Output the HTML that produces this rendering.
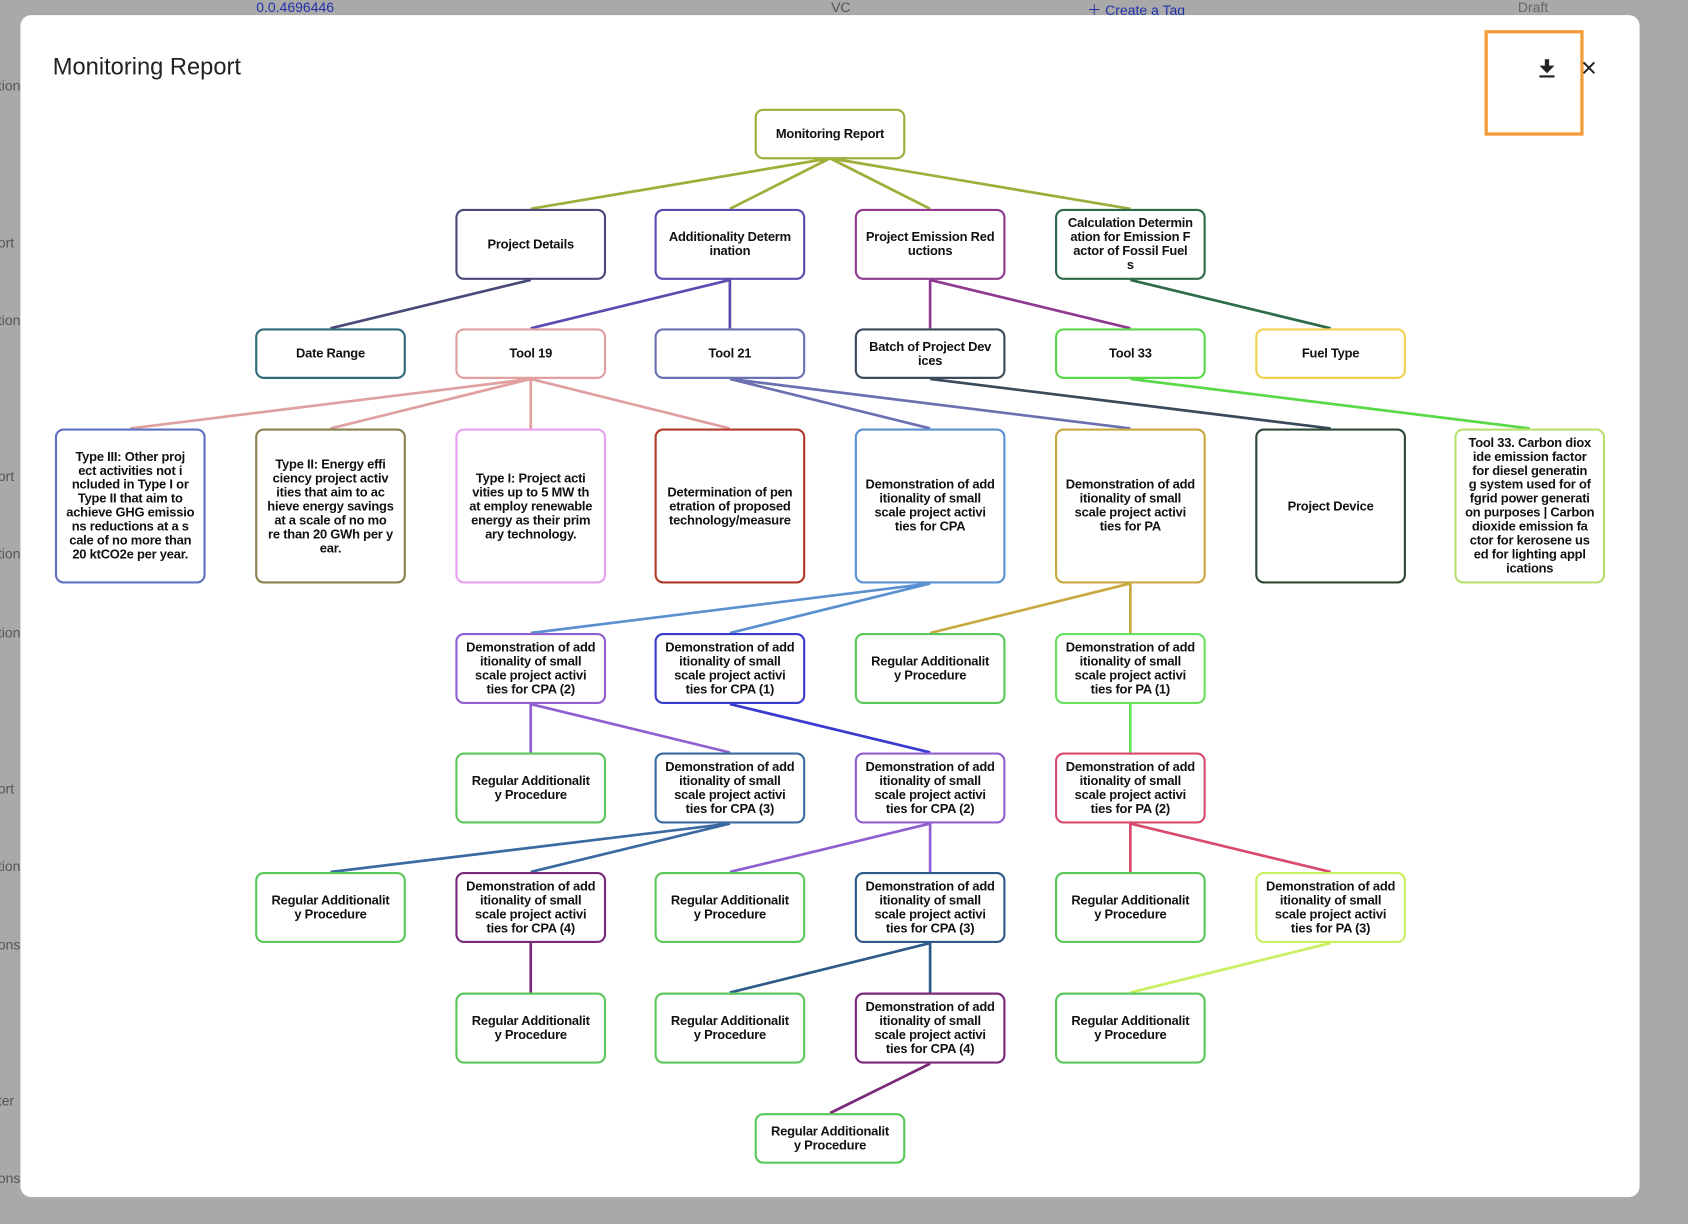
<!DOCTYPE html>
<html><head><meta charset="utf-8"><style>
html,body{margin:0;padding:0;width:1688px;height:1224px;overflow:hidden;background:#a9a9a9;}
#w{position:absolute;left:0;top:0;width:1568px;height:1137px;transform:scale(1.076531);transform-origin:0 0;font-family:"Liberation Sans",sans-serif;}
.bg{position:absolute;color:#555;font-size:13px;}
.modal{position:absolute;left:19px;top:14px;width:1504px;height:1098px;background:#fff;border-radius:10px;}
.n{position:absolute;width:140px;box-sizing:border-box;border:2px solid #5ac85a;border-radius:8px;background:#fff;display:flex;align-items:center;justify-content:center;text-align:center;font-weight:bold;font-size:12px;line-height:13px;color:#111;white-space:nowrap;letter-spacing:-0.2px;}
svg{position:absolute;left:0;top:0;}
</style></head><body><div id="w">
<div class="bg" style="left:0;top:0;width:1568px;height:14px;background:#a9a9a9"></div>
<div class="bg" style="left:238px;top:-1px;color:#2233aa;">0.0.4696446</div>
<div class="bg" style="left:772px;top:-1px;">VC</div>
<div class="bg" style="left:1010px;top:-1px;color:#2233aa;">＋ Create a Tag</div>
<div class="bg" style="left:1410px;top:-1px;color:#666;">Draft</div>
<div class="bg" style="left:-2px;top:72px;">tion</div>
<div class="bg" style="left:-2px;top:218px;">ort</div>
<div class="bg" style="left:-2px;top:290px;">tion</div>
<div class="bg" style="left:-2px;top:435px;">ort</div>
<div class="bg" style="left:-2px;top:507px;">tion</div>
<div class="bg" style="left:-2px;top:580px;">tion</div>
<div class="bg" style="left:-2px;top:725px;">ort</div>
<div class="bg" style="left:-2px;top:797px;">tion</div>
<div class="bg" style="left:-2px;top:870px;">ons</div>
<div class="bg" style="left:-2px;top:1015px;">ter</div>
<div class="bg" style="left:-2px;top:1087px;">ons</div>
<div class="modal"></div>
<div style="position:absolute;left:49px;top:49px;font-size:22px;color:#222;">Monitoring Report</div>
<div style="position:absolute;left:1379px;top:28px;width:86px;height:92px;border:3px solid #f39a36;"></div>
<svg width="1568" height="1137" style="z-index:0">
<g fill="#222"><rect x="1435" y="55" width="4" height="7"/><polygon points="1430,61 1444,61 1437,68"/><rect x="1430" y="70" width="14" height="2"/></g>
<path d="M1471 58 L1481 68 M1481 58 L1471 68" stroke="#222" stroke-width="1.8"/>
<g fill="none" stroke-width="2.5">
<g stroke="#a0ad3a"><path d="M771 147L493 194M771 147L678 194M771 147L864 194M771 147L1050 194"/></g>
<path stroke="#4a4a7a" d="M493 260L307 305"/>
<path stroke="#5b4bb0" d="M678 260L493 305M678 260L678 305"/>
<path stroke="#8e3a8e" d="M864 260L864 305M864 260L1050 305"/>
<path stroke="#2e6b4a" d="M1050 260L1236 305"/>
<path stroke="#e0a0a0" d="M493 352L121 398M493 352L307 398M493 352L493 398M493 352L678 398"/>
<path stroke="#6a70b0" d="M678 352L864 398M678 352L1050 398"/>
<path stroke="#3a4a5a" d="M864 352L1236 398"/>
<path stroke="#5ad84a" d="M1050 352L1421 398"/>
<path stroke="#5a90d0" d="M864 542L493 588M864 542L678 588"/>
<path stroke="#c8a840" d="M1050 542L864 588M1050 542L1050 588"/>
<path stroke="#9060d0" d="M493 654L493 699M493 654L678 699"/>
<path stroke="#3a3ad0" d="M678 654L864 699"/>
<path stroke="#6ae060" d="M1050 654L1050 699"/>
<path stroke="#3a6aa0" d="M678 765L307 810M678 765L493 810"/>
<path stroke="#9060d0" d="M864 765L678 810M864 765L864 810"/>
<path stroke="#d84a70" d="M1050 765L1050 810M1050 765L1236 810"/>
<path stroke="#7a2a7a" d="M493 876L493 922"/>
<path stroke="#2e5a8a" d="M864 876L678 922M864 876L864 922"/>
<path stroke="#c8f060" d="M1236 876L1050 922"/>
<path stroke="#7a2a7a" d="M864 988L771 1034"/>
</g></svg>
<div class="n" style="left:701px;top:101px;height:47px;border-color:#a0ad3a">Monitoring Report</div>
<div class="n" style="left:423px;top:194px;height:66px;border-color:#4a4a7a">Project Details</div>
<div class="n" style="left:608px;top:194px;height:66px;border-color:#5b4bb0">Additionality Determ<br>ination</div>
<div class="n" style="left:794px;top:194px;height:66px;border-color:#8e3a8e">Project Emission Red<br>uctions</div>
<div class="n" style="left:980px;top:194px;height:66px;border-color:#2e6b4a">Calculation Determin<br>ation for Emission F<br>actor of Fossil Fuel<br>s</div>
<div class="n" style="left:237px;top:305px;height:47px;border-color:#2f6b7a">Date Range</div>
<div class="n" style="left:423px;top:305px;height:47px;border-color:#e0a0a0">Tool 19</div>
<div class="n" style="left:608px;top:305px;height:47px;border-color:#6a70b0">Tool 21</div>
<div class="n" style="left:794px;top:305px;height:47px;border-color:#3a4a5a">Batch of Project Dev<br>ices</div>
<div class="n" style="left:980px;top:305px;height:47px;border-color:#5ad84a">Tool 33</div>
<div class="n" style="left:1166px;top:305px;height:47px;border-color:#f0d050">Fuel Type</div>
<div class="n" style="left:51px;top:398px;height:144px;border-color:#6070c0">Type III: Other proj<br>ect activities not i<br>ncluded in Type I or<br>Type II that aim to<br>achieve GHG emissio<br>ns reductions at a s<br>cale of no more than<br>20 ktCO2e per year.</div>
<div class="n" style="left:237px;top:398px;height:144px;border-color:#8a8050">Type II: Energy effi<br>ciency project activ<br>ities that aim to ac<br>hieve energy savings<br>at a scale of no mo<br>re than 20 GWh per y<br>ear.</div>
<div class="n" style="left:423px;top:398px;height:144px;border-color:#e8a0f0">Type I: Project acti<br>vities up to 5 MW th<br>at employ renewable<br>energy as their prim<br>ary technology.</div>
<div class="n" style="left:608px;top:398px;height:144px;border-color:#b03a2a">Determination of pen<br>etration of proposed<br>technology/measure</div>
<div class="n" style="left:794px;top:398px;height:144px;border-color:#5a90d0">Demonstration of add<br>itionality of small<br>scale project activi<br>ties for CPA</div>
<div class="n" style="left:980px;top:398px;height:144px;border-color:#c8a840">Demonstration of add<br>itionality of small<br>scale project activi<br>ties for PA</div>
<div class="n" style="left:1166px;top:398px;height:144px;border-color:#2e4a36">Project Device</div>
<div class="n" style="left:1351px;top:398px;height:144px;border-color:#b8e070">Tool 33. Carbon diox<br>ide emission factor<br>for diesel generatin<br>g system used for of<br>fgrid power generati<br>on purposes | Carbon<br>dioxide emission fa<br>ctor for kerosene us<br>ed for lighting appl<br>ications</div>
<div class="n" style="left:423px;top:588px;height:66px;border-color:#9060d0">Demonstration of add<br>itionality of small<br>scale project activi<br>ties for CPA (2)</div>
<div class="n" style="left:608px;top:588px;height:66px;border-color:#3a3ad0">Demonstration of add<br>itionality of small<br>scale project activi<br>ties for CPA (1)</div>
<div class="n" style="left:794px;top:588px;height:66px;">Regular Additionalit<br>y Procedure</div>
<div class="n" style="left:980px;top:588px;height:66px;border-color:#6ae060">Demonstration of add<br>itionality of small<br>scale project activi<br>ties for PA (1)</div>
<div class="n" style="left:423px;top:699px;height:66px;">Regular Additionalit<br>y Procedure</div>
<div class="n" style="left:608px;top:699px;height:66px;border-color:#3a6aa0">Demonstration of add<br>itionality of small<br>scale project activi<br>ties for CPA (3)</div>
<div class="n" style="left:794px;top:699px;height:66px;border-color:#9060d0">Demonstration of add<br>itionality of small<br>scale project activi<br>ties for CPA (2)</div>
<div class="n" style="left:980px;top:699px;height:66px;border-color:#d84a70">Demonstration of add<br>itionality of small<br>scale project activi<br>ties for PA (2)</div>
<div class="n" style="left:237px;top:810px;height:66px;">Regular Additionalit<br>y Procedure</div>
<div class="n" style="left:423px;top:810px;height:66px;border-color:#7a2a7a">Demonstration of add<br>itionality of small<br>scale project activi<br>ties for CPA (4)</div>
<div class="n" style="left:608px;top:810px;height:66px;">Regular Additionalit<br>y Procedure</div>
<div class="n" style="left:794px;top:810px;height:66px;border-color:#2e5a8a">Demonstration of add<br>itionality of small<br>scale project activi<br>ties for CPA (3)</div>
<div class="n" style="left:980px;top:810px;height:66px;">Regular Additionalit<br>y Procedure</div>
<div class="n" style="left:1166px;top:810px;height:66px;border-color:#c8f060">Demonstration of add<br>itionality of small<br>scale project activi<br>ties for PA (3)</div>
<div class="n" style="left:423px;top:922px;height:66px;">Regular Additionalit<br>y Procedure</div>
<div class="n" style="left:608px;top:922px;height:66px;">Regular Additionalit<br>y Procedure</div>
<div class="n" style="left:794px;top:922px;height:66px;border-color:#7a2a7a">Demonstration of add<br>itionality of small<br>scale project activi<br>ties for CPA (4)</div>
<div class="n" style="left:980px;top:922px;height:66px;">Regular Additionalit<br>y Procedure</div>
<div class="n" style="left:701px;top:1034px;height:47px;">Regular Additionalit<br>y Procedure</div>
</div></body></html>
